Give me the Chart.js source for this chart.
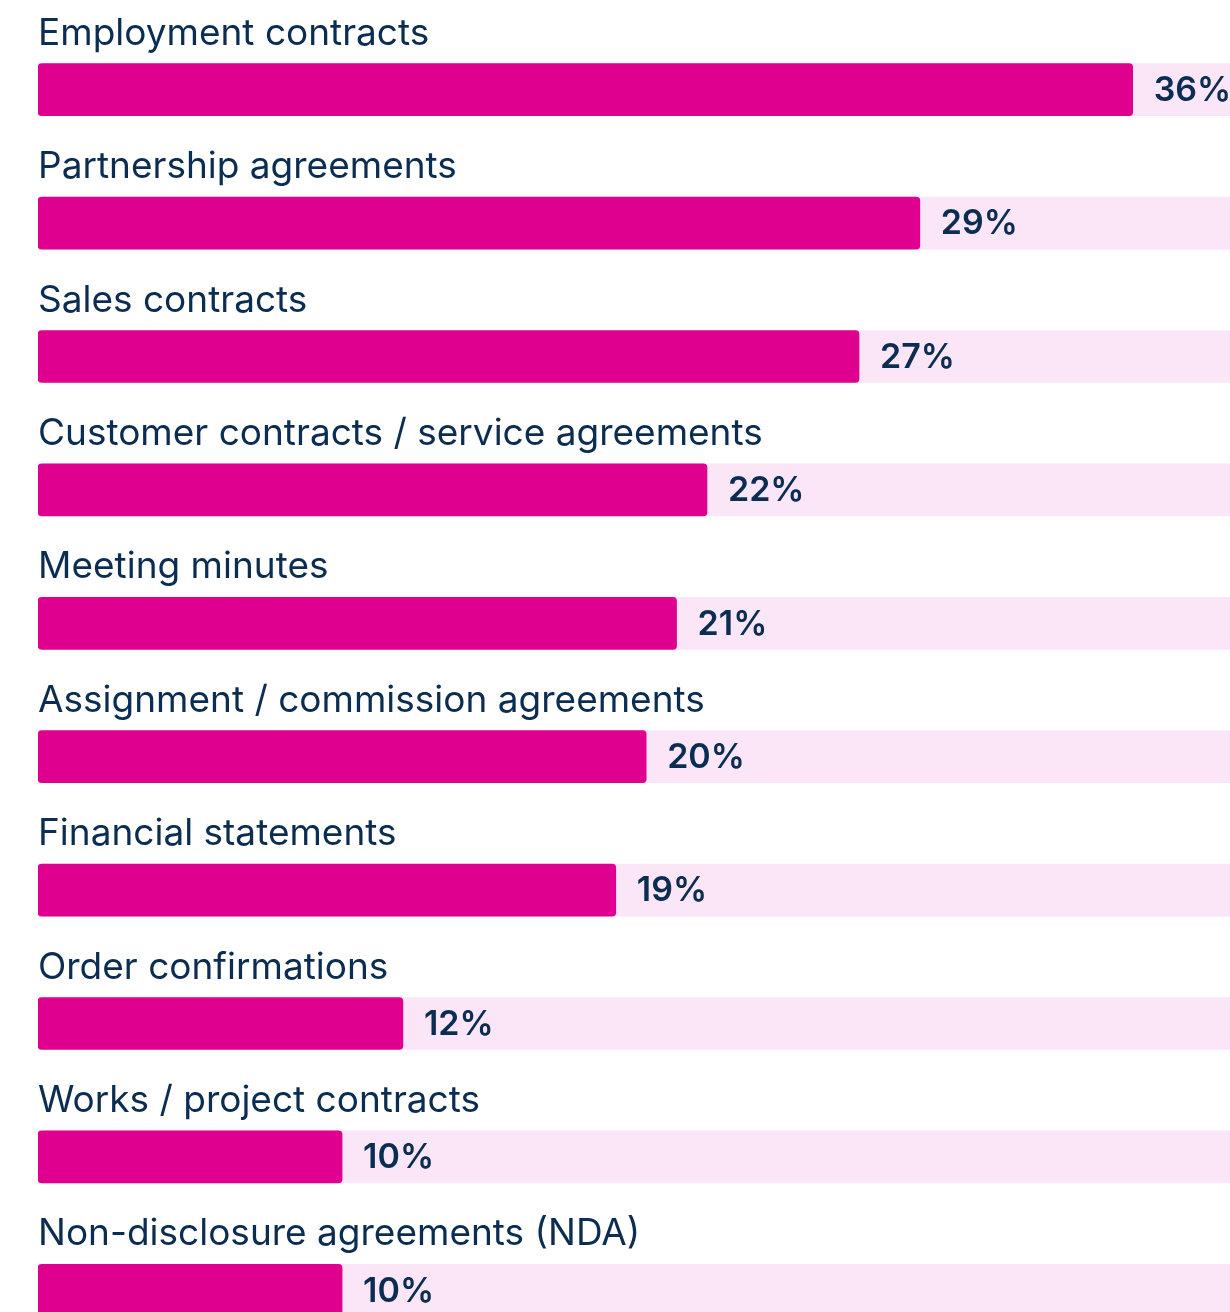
<!DOCTYPE html>
<html>
<head>
<meta charset="utf-8">
<script src="https://cdn.jsdelivr.net/npm/chart.js@4"></script>
<style>
  html, body { margin: 0; padding: 0; background: #fff; overflow: hidden; }
  #wrap { position: relative; width: 1230px; height: 1357px; }
</style>
</head>
<body>
<div id="wrap"><canvas id="docChart"></canvas></div>
<script>
const categories = [
  'Employment contracts',
  'Partnership agreements',
  'Sales contracts',
  'Customer contracts / service agreements',
  'Meeting minutes',
  'Assignment / commission agreements',
  'Financial statements',
  'Order confirmations',
  'Works / project contracts',
  'Non-disclosure agreements (NDA)'
];
const shares = [36, 29, 27, 22, 21, 20, 19, 12, 10, 10];
const axisMax = 39.2;

const ink = '#0b2d52';

// labels above each bar and value labels to the right
const barLabels = {
  id: 'barLabels',
  afterDatasetsDraw(chart) {
    const ctx = chart.ctx;
    const meta = chart.getDatasetMeta(0);
    ctx.save();
    ctx.fillStyle = ink;
    meta.data.forEach((bar, i) => {
      const top = bar.y - bar.height / 2;
      ctx.font = '400 37px Inter';
      ctx.textAlign = 'left';
      ctx.textBaseline = 'alphabetic';
      ctx.fillText(categories[i], chart.chartArea.left, top - 19);
      ctx.font = '600 34px Inter';
      ctx.textBaseline = 'middle';
      ctx.fillText(shares[i] + '%', bar.x + 21, bar.y + 1);
    });
    ctx.restore();
  }
};

new Chart(document.getElementById('docChart').getContext('2d'), {
  type: 'bar',
  data: {
    labels: categories,
    datasets: [
      {
        data: shares,
        backgroundColor: '#df0090',
        borderRadius: 4,
        borderSkipped: false,
        barThickness: 52,
        grouped: false
      },
      {
        data: categories.map(() => axisMax),
        backgroundColor: '#fbe6f7',
        borderRadius: 0,
        barThickness: 52,
        grouped: false
      }
    ]
  },
  options: {
    indexAxis: 'y',
    responsive: true,
    maintainAspectRatio: false,
    animation: false,
    layout: { padding: { left: 38, right: 0, top: 23, bottom: 0 } },
    scales: {
      x: { display: false, min: 0, max: axisMax },
      y: { display: false }
    },
    plugins: {
      legend: { display: false },
      tooltip: { enabled: false }
    }
  },
  plugins: [barLabels]
});
</script>
</body>
</html>
